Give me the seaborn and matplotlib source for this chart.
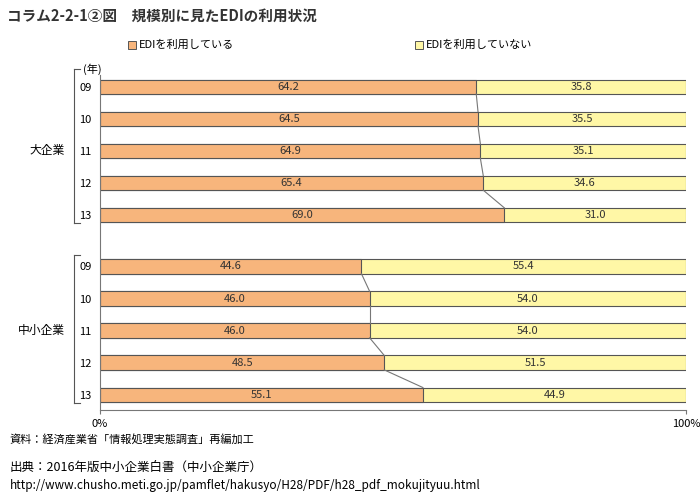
import matplotlib
matplotlib.use("Agg")
import matplotlib.pyplot as plt
import seaborn as sns
import pandas as pd

plt.rcParams["font.family"] = "Noto Sans CJK JP"

years = ["09", "10", "11", "12", "13"]
large_use = [64.2, 64.5, 64.9, 65.4, 69.0]
small_use = [44.6, 46.0, 46.0, 48.5, 55.1]
groups = ["大企業", "中小企業"]

pos = [0, 1, 2, 3, 4, 5.6, 6.6, 7.6, 8.6, 9.6]
use = large_use + small_use
df = pd.DataFrame({"pos": pos, "use": use, "total": [100.0] * 10})

fig = plt.figure(figsize=(7, 4.98), dpi=100)
ax = fig.add_axes([0.143, 0.177, 0.837, 0.673])
orange, yellow, edge = "#F7B57C", "#FFF7A6", "#555555"
sns.barplot(data=df, x="total", y="pos", orient="h", native_scale=True, color=yellow,
            edgecolor=edge, linewidth=0.8, width=0.45, ax=ax, saturation=1)
sns.barplot(data=df, x="use", y="pos", orient="h", native_scale=True, color=orange,
            edgecolor=edge, linewidth=0.8, width=0.45, ax=ax, saturation=1)
ax.set_xlim(0, 100)
ax.set_ylim(10.07, -0.375)
for p, v in zip(pos, use):
    ax.text(v / 2, p, f"{v:.1f}", ha="center", va="center", fontsize=8, color="#333")
    ax.text(v + (100 - v) / 2, p, f"{100 - v:.1f}", ha="center", va="center", fontsize=8, color="#333")
for g in (0, 5):
    for i in range(g, g + 4):
        ax.plot([use[i], use[i + 1]], [pos[i] + 0.225, pos[i + 1] - 0.225], color="#777", lw=0.8)
ax.set_yticks(pos)
ax.set_yticklabels(years * 2, fontsize=8)
ax.tick_params(axis="y", length=0, pad=6)
ax.set_xticks([0, 100])
ax.set_xticklabels(["0%", "100%"], fontsize=8)
ax.tick_params(axis="x", length=3, color="#777")
ax.set_xlabel(""); ax.set_ylabel("")
for s in ["top", "right"]:
    ax.spines[s].set_visible(False)
ax.spines["left"].set_color("#777"); ax.spines["bottom"].set_color("#777")

# brackets
for (y0, y1, yc, lab) in [(-0.55, 4.25, 2, groups[0]), (5.25, 9.85, 7.6, groups[1])]:
    ax.plot([-4.5, -4.5], [y0, y1], color="#555", lw=0.8, clip_on=False)
    ax.plot([-4.5, -3.5], [y0, y0], color="#555", lw=0.8, clip_on=False)
    ax.plot([-4.5, -3.5], [y1, y1], color="#555", lw=0.8, clip_on=False)
    ax.text(-6, yc, lab, ha="right", va="center", fontsize=8.5)
ax.text(-3, -0.55, "(年)", ha="left", va="center", fontsize=8)

fig.text(0.01, 0.968, "コラム2-2-1②図　規模別に見たEDIの利用状況", fontsize=10.5, fontweight="bold", va="center", color="#333")
# legend
fig.patches.append(plt.Rectangle((0.183, 0.902), 0.011, 0.016, transform=fig.transFigure, fc=orange, ec=edge, lw=0.7))
fig.text(0.198, 0.910, "EDIを利用している", fontsize=8, va="center")
fig.patches.append(plt.Rectangle((0.593, 0.902), 0.011, 0.016, transform=fig.transFigure, fc=yellow, ec=edge, lw=0.7))
fig.text(0.608, 0.910, "EDIを利用していない", fontsize=8, va="center")

fig.text(0.014, 0.118, "資料：経済産業省「情報処理実態調査」再編加工", fontsize=8, va="center")
fig.text(0.014, 0.062, "出典：2016年版中小企業白書（中小企業庁）", fontsize=9, va="center")
fig.text(0.014, 0.026, "http://www.chusho.meti.go.jp/pamflet/hakusyo/H28/PDF/h28_pdf_mokujityuu.html", fontsize=8.5, va="center")
fig.savefig("out.png", dpi=100)
